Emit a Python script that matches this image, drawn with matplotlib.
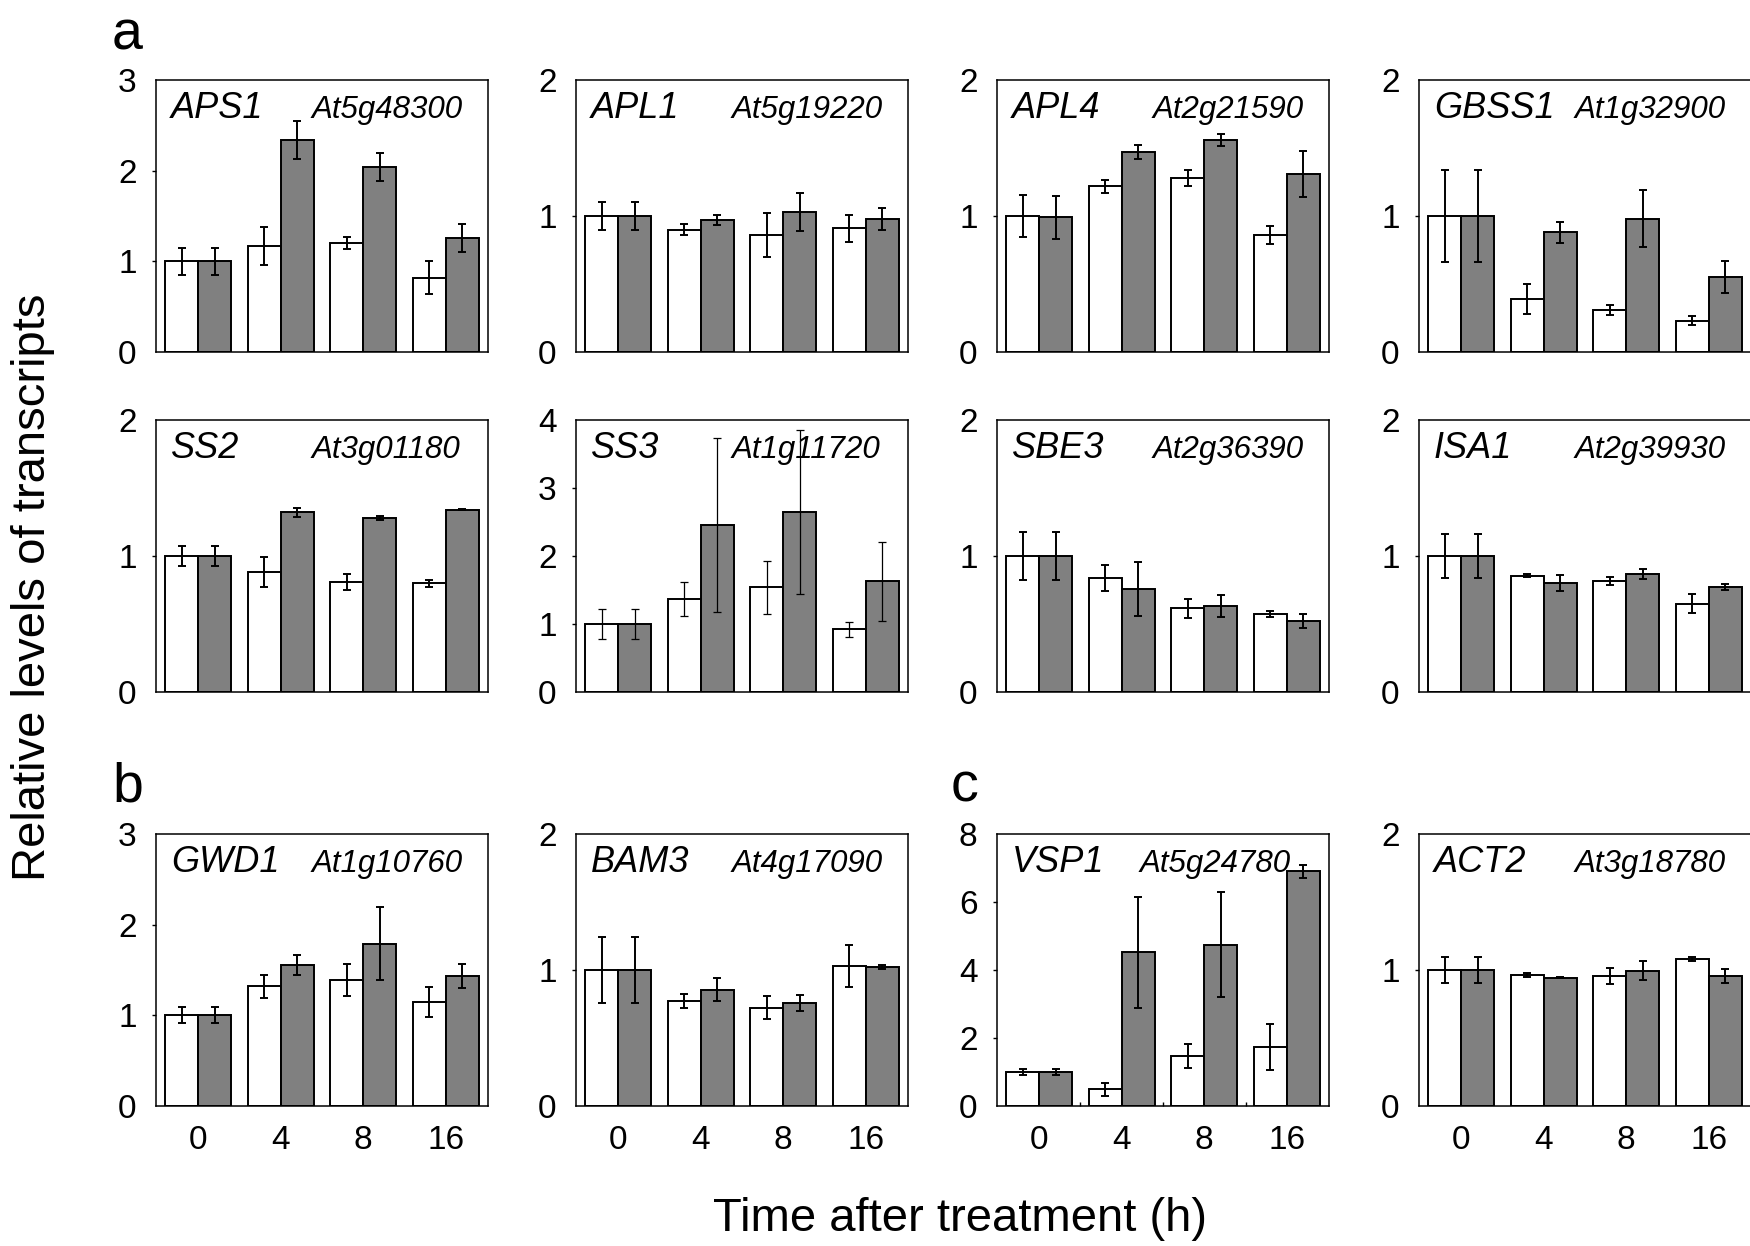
import matplotlib
matplotlib.use('Agg')
import matplotlib.pyplot as plt
import numpy as np

plt.rcParams['font.family'] = ['Liberation Sans', 'DejaVu Sans']

# time points (h)
times = ['0', '4', '8', '16']

genes = ['APS1', 'APL1', 'APL4', 'GBSS1',
         'SS2', 'SS3', 'SBE3', 'ISA1',
         'GWD1', 'BAM3', 'VSP1', 'ACT2']
locus = ['At5g48300', 'At5g19220', 'At2g21590', 'At1g32900',
         'At3g01180', 'At1g11720', 'At2g36390', 'At2g39930',
         'At1g10760', 'At4g17090', 'At5g24780', 'At3g18780']
ymax = [3, 2, 2, 2, 2, 4, 2, 2, 3, 2, 8, 2]

# white bars (control) and grey bars (treated)
ctrl = [[1.0, 1.17, 1.20, 0.82],
        [1.0, 0.90, 0.86, 0.91],
        [1.0, 1.22, 1.28, 0.86],
        [1.0, 0.39, 0.31, 0.23],
        [1.0, 0.88, 0.81, 0.80],
        [1.0, 1.37, 1.54, 0.92],
        [1.0, 0.84, 0.615, 0.574],
        [1.0, 0.855, 0.817, 0.65],
        [1.0, 1.32, 1.39, 1.147],
        [1.0, 0.772, 0.723, 1.03],
        [1.0, 0.49, 1.47, 1.725],
        [1.0, 0.963, 0.956, 1.078]]
ctrl_err = [[0.15, 0.21, 0.065, 0.18],
            [0.10, 0.04, 0.16, 0.10],
            [0.157, 0.048, 0.058, 0.065],
            [0.337, 0.107, 0.036, 0.032],
            [0.075, 0.11, 0.058, 0.026],
            [0.22, 0.255, 0.39, 0.115],
            [0.18, 0.096, 0.072, 0.022],
            [0.163, 0.01, 0.027, 0.067],
            [0.09, 0.13, 0.175, 0.17],
            [0.24, 0.051, 0.083, 0.157],
            [0.1, 0.19, 0.34, 0.68],
            [0.092, 0.012, 0.059, 0.015]]
trt = [[1.0, 2.34, 2.04, 1.26],
       [1.0, 0.97, 1.03, 0.98],
       [0.99, 1.47, 1.56, 1.31],
       [1.0, 0.88, 0.98, 0.55],
       [1.0, 1.32, 1.28, 1.34],
       [1.0, 2.45, 2.645, 1.63],
       [1.0, 0.758, 0.632, 0.52],
       [1.0, 0.80, 0.868, 0.77],
       [1.0, 1.555, 1.79, 1.434],
       [1.0, 0.855, 0.755, 1.022],
       [1.0, 4.52, 4.75, 6.90],
       [1.0, 0.944, 0.995, 0.956]]
trt_err = [[0.15, 0.21, 0.155, 0.155],
           [0.10, 0.036, 0.14, 0.08],
           [0.157, 0.05, 0.042, 0.167],
           [0.337, 0.077, 0.21, 0.118],
           [0.075, 0.035, 0.015, 0.005],
           [0.22, 1.28, 1.21, 0.58],
           [0.18, 0.196, 0.081, 0.053],
           [0.163, 0.059, 0.039, 0.021],
           [0.09, 0.11, 0.40, 0.13],
           [0.24, 0.085, 0.059, 0.012],
           [0.1, 1.63, 1.53, 0.19],
           [0.092, 0.004, 0.07, 0.055]]

W, H = 1750, 1246
fig = plt.figure(figsize=(17.5, 12.46), dpi=100)

col_left = [156, 576, 997, 1419]
row_top = [80, 420, 834]
aw, ah = 332, 272

x = np.arange(len(times))
bw = 0.4

for i, g in enumerate(genes):
    r, c = divmod(i, 4)
    ax = fig.add_axes([col_left[c] / W, 1 - (row_top[r] + ah) / H, aw / W, ah / H])

    ax.bar(x - bw / 2, ctrl[i], bw, color='white', edgecolor='black', lw=1.4, zorder=2)
    ax.bar(x + bw / 2, trt[i], bw, color='#808080', edgecolor='black', lw=1.4, zorder=2)
    elw = 0.9 if g == 'SS3' else 1.4
    ax.errorbar(x - bw / 2, ctrl[i], yerr=ctrl_err[i], fmt='none', ecolor='black',
                elinewidth=elw, capsize=3, capthick=elw, zorder=3)
    ax.errorbar(x + bw / 2, trt[i], yerr=trt_err[i], fmt='none', ecolor='black',
                elinewidth=elw, capsize=3, capthick=elw, zorder=3)

    ax.set_xlim(-0.51, 3.51)
    ax.set_ylim(0, ymax[i])
    step = 2 if ymax[i] == 8 else 1
    ax.set_yticks(np.arange(0, ymax[i] + 0.01, step))
    ax.set_yticklabels([str(int(v)) for v in np.arange(0, ymax[i] + 0.01, step)])
    ax.tick_params(axis='y', direction='out', length=3, width=1, pad=11, labelsize=24)
    yt = ax.yaxis.get_major_ticks()
    yt[0].tick1line.set_visible(False)
    yt[-1].tick1line.set_visible(False)

    ax.set_xticks(x)
    ax.set_xticklabels(times)
    ax.tick_params(axis='x', length=0, pad=14, labelsize=24, labelbottom=(r == 2))
    if g == 'VSP1':
        ax.set_xticks([0.5, 1.5, 2.5], minor=True)
        ax.tick_params(axis='x', which='minor', direction='in', length=3, width=1)

    for s in ax.spines.values():
        s.set_linewidth(1.1)
        s.set_color('black')

    ax.text(0.045, 0.861, g, transform=ax.transAxes, fontsize=26, style='italic',
            va='baseline', ha='left')
    idx = 0.43 if g == 'VSP1' else 0.47
    ax.text(idx, 0.861, locus[i], transform=ax.transAxes, fontsize=22.5, style='italic',
            va='baseline', ha='left')

# panel letters
fig.text(112 / W, 1 - 50 / H, 'a', fontsize=40, va='baseline', ha='left')
fig.text(112 / W, 1 - 801 / H, 'b', fontsize=40, va='baseline', ha='left')
fig.text(951 / W, 1 - 801 / H, 'c', fontsize=40, va='baseline', ha='left')

fig.text(33 / W, 1 - 587 / H, 'Relative levels of transcripts', rotation=90,
         fontsize=34, ha='center', va='center')
fig.text(960 / W, 1 - 1219 / H, 'Time after treatment (h)', fontsize=34,
         ha='center', va='center')

fig.savefig('out.png', dpi=100)
